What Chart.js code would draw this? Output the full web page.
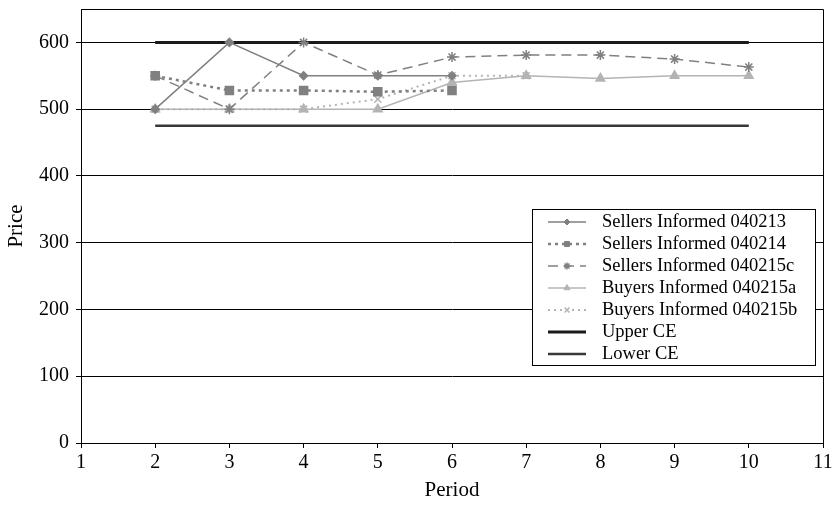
<!DOCTYPE html>
<html>
<head>
<meta charset="utf-8">
<script src="https://cdn.jsdelivr.net/npm/chart.js@4/dist/chart.umd.min.js"></script>
<style>
  html, body { margin: 0; padding: 0; background: #fff; }
  canvas { display: block; }
</style>
</head>
<body>
<canvas id="priceChart" width="832" height="505"></canvas>
<script>
const periods = [2, 3, 4, 5, 6, 7, 8, 9, 10];
const sellers040213 = [500, 600, 550, 550, 550, null, null, null, null];
const sellers040214 = [550, 528, 528, 526, 528, null, null, null, null];
const sellers040215c = [550, 500, 600, 551, 578, 581, 581, 575, 563];
const buyers040215a = [500, 500, 500, 500, 540, 550, 546, 550, 550];
const buyers040215b = [500, 500, 500, 515, 550, 550, null, null, null];
const upperCE = [600, 600, 600, 600, 600, 600, 600, 600, 600];
const lowerCE = [475, 475, 475, 475, 475, 475, 475, 475, 475];
const yTicks = [0, 100, 200, 300, 400, 500, 600];

const SERIF = "'Liberation Serif', 'DejaVu Serif', serif";
const DARK = '#808080';
const LIGHT = '#b4b4b4';

function toPoints(values) {
  return periods
    .map((p, i) => ({ x: p, y: values[i] }))
    .filter(pt => pt.y !== null);
}

function series(label, values, style) {
  return Object.assign({
    label: label,
    data: toPoints(values),
    fill: false,
    tension: 0,
    borderWidth: 1.5,
    pointRadius: 0,
    pointHoverRadius: 0
  }, style);
}

const datasets = [
  series('Sellers Informed 040213', sellers040213, {
    borderColor: DARK, backgroundColor: DARK, pointStyle: 'rectRot', pointRadius: 4
  }),
  series('Sellers Informed 040214', sellers040214, {
    borderColor: DARK, backgroundColor: DARK, borderDash: [3, 4], borderWidth: 2.5,
    pointStyle: 'rect', pointRadius: 5
  }),
  series('Sellers Informed 040215c', sellers040215c, {
    borderColor: DARK, backgroundColor: DARK, borderDash: [10, 6], borderWidth: 1.5,
    pointStyle: 'star', pointRadius: 5, pointBorderWidth: 1.5
  }),
  series('Buyers Informed 040215a', buyers040215a, {
    borderColor: LIGHT, backgroundColor: LIGHT, pointStyle: 'triangle', pointRadius: 5
  }),
  series('Buyers Informed 040215b', buyers040215b, {
    borderColor: LIGHT, backgroundColor: LIGHT, borderDash: [2, 4], borderWidth: 2,
    pointStyle: 'crossRot', pointRadius: 5, pointBorderWidth: 1.5
  }),
  series('Upper CE', upperCE, {
    borderColor: '#1a1a1a', backgroundColor: '#1a1a1a', borderWidth: 3
  }),
  series('Lower CE', lowerCE, {
    borderColor: '#383838', backgroundColor: '#383838', borderWidth: 2.5
  })
];

// frame on top and right of the plot area
const plotFrame = {
  id: 'plotFrame',
  afterDraw(chart) {
    const { ctx, chartArea: a } = chart;
    ctx.save();
    ctx.strokeStyle = '#000';
    ctx.lineWidth = 1;
    ctx.beginPath();
    ctx.moveTo(a.left, a.top + 0.5);
    ctx.lineTo(a.right + 0.5, a.top + 0.5);
    ctx.lineTo(a.right + 0.5, a.bottom);
    ctx.stroke();
    ctx.restore();
  }
};

// legend box drawn inside the plot area
const boxLegend = {
  id: 'boxLegend',
  afterDraw(chart) {
    const { ctx } = chart;
    const left = 532, top = 209, width = 283, height = 156, rowH = 22;
    ctx.save();
    ctx.fillStyle = '#fff';
    ctx.fillRect(left, top, width, height);
    ctx.strokeStyle = '#000';
    ctx.lineWidth = 1;
    ctx.strokeRect(left + 0.5, top + 0.5, width, height);
    chart.data.datasets.forEach((ds, i) => {
      const y = top + 13 + i * rowH;
      ctx.save();
      ctx.strokeStyle = ds.borderColor;
      ctx.lineWidth = ds.borderWidth;
      ctx.setLineDash(ds.borderDash || []);
      ctx.beginPath();
      ctx.moveTo(548, y);
      ctx.lineTo(586, y);
      ctx.stroke();
      ctx.restore();
      if (ds.pointRadius > 0) {
        ctx.save();
        ctx.fillStyle = ds.backgroundColor;
        ctx.strokeStyle = ds.borderColor;
        ctx.lineWidth = ds.pointBorderWidth || 1;
        Chart.helpers.drawPoint(ctx, {
          pointStyle: ds.pointStyle,
          radius: Math.max(ds.pointRadius - 1.5, 3),
          rotation: 0,
          borderWidth: ctx.lineWidth
        }, 567, y);
        ctx.restore();
      }
      ctx.fillStyle = '#000';
      ctx.font = "18.5px " + SERIF;
      ctx.textBaseline = 'middle';
      ctx.textAlign = 'left';
      ctx.fillText(ds.label, 602, y);
    });
    ctx.restore();
  }
};

new Chart(document.getElementById('priceChart').getContext('2d'), {
  type: 'line',
  data: { datasets: datasets },
  options: {
    responsive: false,
    animation: false,
    events: [],
    layout: { padding: { top: 9, right: 9, left: 0, bottom: 0 } },
    plugins: {
      legend: { display: false },
      tooltip: { enabled: false }
    },
    scales: {
      x: {
        type: 'linear',
        min: 1,
        max: 11,
        ticks: {
          stepSize: 1,
          color: '#000',
          padding: 3,
          font: { family: SERIF, size: 20 }
        },
        grid: {
          drawOnChartArea: false,
          drawTicks: true,
          tickLength: 5,
          color: '#000'
        },
        border: { color: '#000', width: 1 },
        title: {
          display: true,
          text: 'Period',
          color: '#000',
          font: { family: SERIF, size: 21 },
          padding: { top: 0, bottom: 2 }
        },
        afterFit(scale) {
          scale.height = 62;
          scale.paddingLeft = 0;
          scale.paddingRight = 0;
        }
      },
      y: {
        min: 0,
        max: 650,
        afterBuildTicks(scale) {
          scale.ticks = yTicks.map(v => ({ value: v }));
        },
        ticks: {
          color: '#000',
          padding: 7,
          font: { family: SERIF, size: 20 }
        },
        grid: {
          color: '#000',
          lineWidth: 1,
          tickLength: 5
        },
        border: { color: '#000', width: 1 },
        title: {
          display: true,
          text: 'Price',
          color: '#000',
          font: { family: SERIF, size: 21 },
          padding: { top: 4, bottom: 0 }
        },
        afterFit(scale) {
          scale.width = 81;
          scale.paddingTop = 0;
          scale.paddingBottom = 0;
        }
      }
    }
  },
  plugins: [plotFrame, boxLegend]
});
</script>
</body>
</html>
